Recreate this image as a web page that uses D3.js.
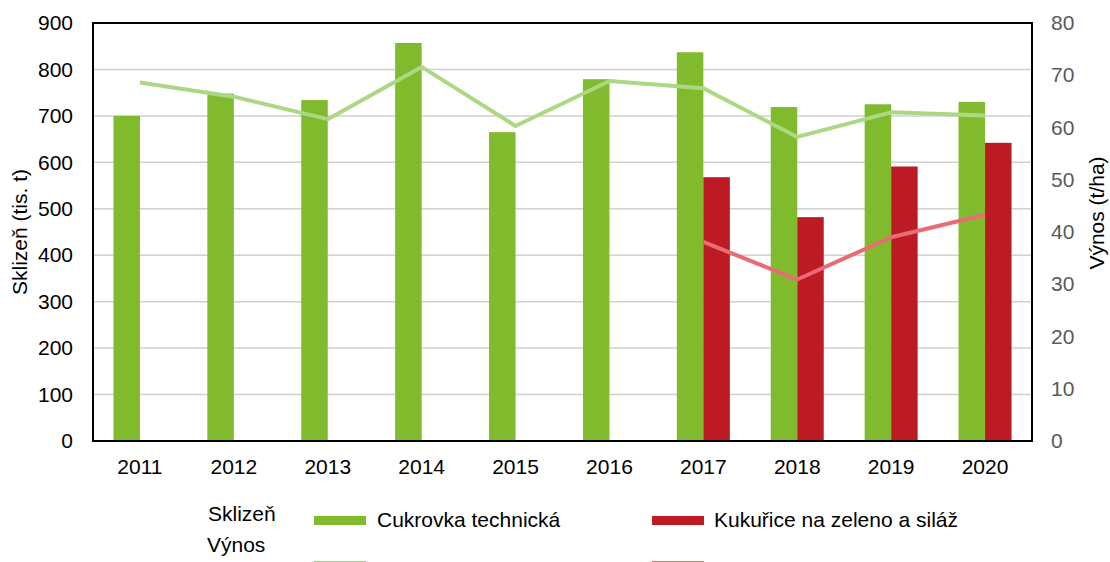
<!DOCTYPE html>
<html>
<head>
<meta charset="utf-8">
<style>
  body { margin: 0; background: #fff; }
  svg text { font-family: "Liberation Sans", Arial, sans-serif; }
  .grid line { stroke: #d0d0d0; stroke-width: 1.5px; }
</style>
</head>
<body>
<div class="chart"></div>
<script src="https://d3js.org/d3.v7.min.js"></script>
<script>
  // data
  const years = ['2011', '2012', '2013', '2014', '2015', '2016', '2017', '2018', '2019', '2020']
  const harvestBeet = [700, 748, 734, 857, 665, 779, 837, 719, 725, 730]
  const harvestMaize = [null, null, null, null, null, null, 568, 482, 591, 642]
  const yieldBeet = [68.6, 65.9, 61.6, 71.6, 60.3, 68.9, 67.5, 58.2, 62.9, 62.3]
  const yieldMaize = [null, null, null, null, null, null, 38.1, 30.9, 39.0, 43.3]
  const leftTicks = [0, 100, 200, 300, 400, 500, 600, 700, 800, 900]
  const rightTicks = [0, 10, 20, 30, 40, 50, 60, 70, 80]

  const colors = {
    beetBar: '#80bb2d',
    maizeBar: '#bd1b23',
    beetLine: '#add883',
    maizeLine: '#e96c72'
  }

  const svgWidth = 1110, svgHeight = 562
  const plotL = 93, plotR = 1032, plotT = 23, plotB = 441
  const fs = 21

  const svg = d3.select('.chart')
                .append('svg')
                .attr('width', svgWidth)
                .attr('height', svgHeight)

  const x = d3.scaleBand()
              .domain(years)
              .range([plotL, plotR])
  const bw = 26.5

  const yL = d3.scaleLinear().domain([0, 900]).range([plotB, plotT])
  const yR = d3.scaleLinear().domain([0, 80]).range([plotB, plotT])

  // gridlines
  svg.append('g')
     .attr('class', 'grid')
     .selectAll('line')
     .data(leftTicks.filter(d => d > 0 && d < 900))
     .join('line')
     .attr('x1', plotL).attr('x2', plotR)
     .attr('y1', d => yL(d)).attr('y2', d => yL(d))

  // bars
  svg.append('g')
     .selectAll('rect')
     .data(years.map((y, i) => ({ y, v: harvestBeet[i] })))
     .join('rect')
     .attr('x', d => x(d.y) + x.bandwidth() / 2 - bw)
     .attr('y', d => yL(d.v))
     .attr('width', bw)
     .attr('height', d => plotB - yL(d.v))
     .attr('fill', colors.beetBar)

  svg.append('g')
     .selectAll('rect')
     .data(years.map((y, i) => ({ y, v: harvestMaize[i] })).filter(d => d.v != null))
     .join('rect')
     .attr('x', d => x(d.y) + x.bandwidth() / 2)
     .attr('y', d => yL(d.v))
     .attr('width', bw)
     .attr('height', d => plotB - yL(d.v))
     .attr('fill', colors.maizeBar)

  // yield lines
  const line = d3.line()
                 .x(d => x(d.y) + x.bandwidth() / 2)
                 .y(d => yR(d.v))
                 .defined(d => d.v != null)

  svg.append('path')
     .attr('fill', 'none')
     .attr('stroke', colors.beetLine)
     .attr('stroke-width', 4)
     .attr('stroke-linejoin', 'round')
     .attr('d', line(years.map((y, i) => ({ y, v: yieldBeet[i] }))))

  svg.append('path')
     .attr('fill', 'none')
     .attr('stroke', colors.maizeLine)
     .attr('stroke-width', 4)
     .attr('stroke-linejoin', 'round')
     .attr('d', line(years.map((y, i) => ({ y, v: yieldMaize[i] }))))

  // frame
  svg.append('rect')
     .attr('x', plotL).attr('y', plotT)
     .attr('width', plotR - plotL).attr('height', plotB - plotT)
     .attr('fill', 'none')
     .attr('stroke', '#000')
     .attr('stroke-width', 2)

  // axes
  const axL = svg.append('g')
     .attr('transform', `translate(${plotL}, 0)`)
     .call(d3.axisLeft(yL).tickValues(leftTicks).tickSize(0).tickPadding(20))
  axL.select('.domain').remove()
  axL.selectAll('text').attr('font-size', fs).attr('fill', '#000')
     .style('font-family', '"Liberation Sans", Arial, sans-serif')

  const axR = svg.append('g')
     .attr('transform', `translate(${plotR}, 0)`)
     .call(d3.axisRight(yR).tickValues(rightTicks).tickSize(0).tickPadding(19))
  axR.select('.domain').remove()
  axR.selectAll('text').attr('font-size', fs).attr('fill', '#595959')
     .style('font-family', '"Liberation Sans", Arial, sans-serif')

  const axX = svg.append('g')
     .attr('transform', `translate(0, ${plotB})`)
     .call(d3.axisBottom(x).tickSize(0).tickPadding(18))
  axX.select('.domain').remove()
  axX.selectAll('text').attr('font-size', fs).attr('fill', '#000')
     .style('font-family', '"Liberation Sans", Arial, sans-serif')

  // axis titles
  svg.append('text')
     .attr('transform', `translate(27, 232) rotate(-90)`)
     .attr('text-anchor', 'middle')
     .attr('font-size', fs)
     .text('Sklizeň (tis. t)')

  svg.append('text')
     .attr('transform', `translate(1104, 213) rotate(-90)`)
     .attr('text-anchor', 'middle')
     .attr('font-size', fs)
     .text('Výnos (t/ha)')

  // legend
  const lg = svg.append('g').attr('font-size', fs)
  lg.append('text').attr('x', 208).attr('y', 521).text('Sklizeň')
  lg.append('text').attr('x', 207).attr('y', 552).text('Výnos')
  lg.append('rect').attr('x', 314).attr('y', 516).attr('width', 52).attr('height', 9).attr('fill', colors.beetBar)
  lg.append('text').attr('x', 377).attr('y', 527).text('Cukrovka technická')
  lg.append('rect').attr('x', 652).attr('y', 516).attr('width', 52).attr('height', 9).attr('fill', colors.maizeBar)
  lg.append('text').attr('x', 714).attr('y', 527).text('Kukuřice na zeleno a siláž')
  lg.append('line').attr('x1', 314).attr('x2', 366).attr('y1', 563).attr('y2', 563)
    .attr('stroke', colors.beetLine).attr('stroke-width', 4)
  lg.append('line').attr('x1', 652).attr('x2', 704).attr('y1', 563).attr('y2', 563)
    .attr('stroke', colors.maizeLine).attr('stroke-width', 4)
</script>
</body>
</html>
